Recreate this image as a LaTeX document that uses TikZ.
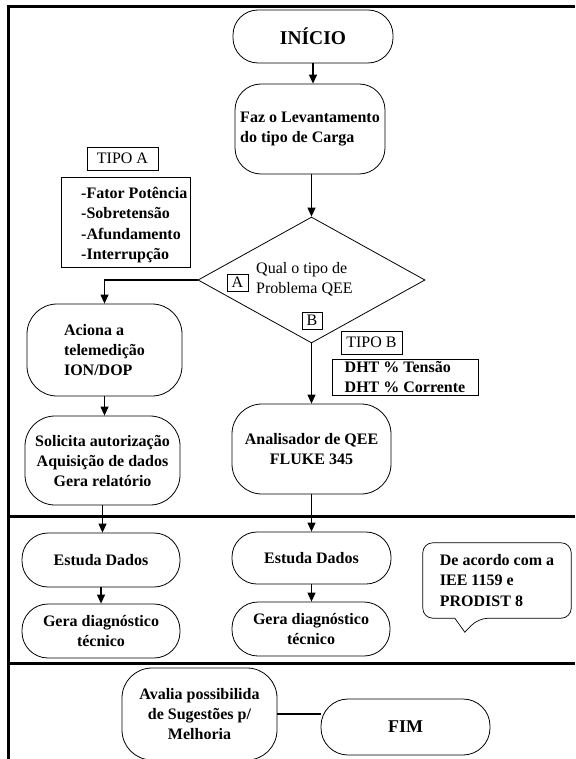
\documentclass[tikz,border=0pt]{standalone}
\usepackage{fontspec}
\setmainfont{Liberation Serif}
\usetikzlibrary{arrows.meta,shapes.geometric,calc}
\begin{document}
\begin{tikzpicture}[x=1pt,y=-1pt,
  term/.style={draw, line width=0.8pt, rounded corners=#1, align=center, inner sep=0pt,
    font=\fontsize{16}{20}\selectfont\bfseries},
  term/.default=24pt,
  tag/.style={draw, line width=0.7pt, inner sep=0pt, font=\fontsize{16}{20}\selectfont},
  plain/.style={inner sep=0pt, align=left, font=\fontsize{16}{20}\selectfont},
  boldtxt/.style={inner sep=0pt, align=left, font=\fontsize{16}{20.3}\selectfont\bfseries},
  arr/.style={line width=1.2pt, -{Triangle[length=9pt,width=8pt]}},
  ln/.style={line width=1.2pt},
  frame/.style={line width=3pt}]
\useasboundingbox (0,0) rectangle (575,759);
\fill[white] (0,0) rectangle (575,759);

% frame and dividers
\draw[frame] (575,7) -- (8,7) -- (8,760);
\draw[frame] (8,516) -- (575,516);
\draw[frame] (8,663.5) -- (575,663.5);

% top column
\node[term=25pt, minimum width=160pt, minimum height=53pt] (inicio) at (313,36.5)
  {\fontsize{19.5}{24}\selectfont INÍCIO};
\node[term=26pt, minimum width=150pt, minimum height=90pt, align=left] (faz) at (310,129)
  {Faz o Levantamento\\do tipo de Carga};
\node[draw, diamond, line width=0.8pt, minimum width=227pt, minimum height=126pt, inner sep=0pt]
  (dia) at (311.5,280) {};
\node[plain, anchor=west] (qual) at (256,279) {Qual o tipo de\\Problema QEE};
\node[tag, minimum width=21pt, minimum height=17pt] (ta) at (237.5,282.5) {A};
\node[tag, minimum width=20pt, minimum height=17pt] (tb) at (312,320.5) {B};

% tipo A
\node[tag, minimum width=71pt, minimum height=23pt] (tipoa) at (122.5,158.5) {TIPO A};
\node[draw, line width=0.7pt, minimum width=129pt, minimum height=90pt, inner sep=0pt]
  (lista) at (125.5,222) {};
\node[boldtxt, anchor=west] (listatxt) at (81,225)
  {-Fator Potência\\-Sobretensão\\-Afundamento\\-Interrupção};

% tipo B
\node[tag, minimum width=61pt, minimum height=23pt] (tipob) at (371.5,342.5) {TIPO B};
\node[draw, line width=0.7pt, minimum width=146pt, minimum height=36pt, inner sep=0pt,
  align=left, font=\fontsize{16}{20}\selectfont\bfseries] (dht) at (405,377)
  {DHT \% Tensão\\DHT \% Corrente};

% left branch
\node[term=30pt, minimum width=155pt, minimum height=92pt, align=left] (aciona) at (104.5,350)
  {Aciona a\\telemedição\\ION/DOP};
\node[term=30pt, minimum width=155pt, minimum height=89pt] (solicita) at (102.5,460.5)
  {Solicita autorização\\Aquisição de dados\\Gera relatório};

% right branch
\node[term=30pt, minimum width=159pt, minimum height=90pt] (anal) at (311.5,449)
  {Analisador de QEE\\FLUKE 345};

% middle band
\node[term=26pt, minimum width=158pt, minimum height=54pt] (estl) at (101,560) {Estuda Dados};
\node[term=26pt, minimum width=158pt, minimum height=54pt] (gerl) at (101,631)
  {Gera diagnóstico\\técnico};
\node[term=25pt, minimum width=159pt, minimum height=52pt] (estr) at (311.5,558) {Estuda Dados};
\node[term=26pt, minimum width=158pt, minimum height=54pt] (gerr) at (311,629)
  {Gera diagnóstico\\técnico};

% callout
\node[boldtxt, minimum width=148pt, minimum height=75pt] (co) at (497,580.5)
  {De acordo com a\\IEE 1159 e\\PRODIST 8};
\draw[line width=0.7pt] ($(co.south west)+(32,0)$) [rounded corners=10pt] -- (co.south west)
  -- (co.north west) -- (co.north east) -- (co.south east) -- ($(co.south east)+(-93,0)$)
  [sharp corners] -- ($(co.south west)+(42,14)$) -- cycle;

% bottom band
\node[term=30pt, minimum width=155pt, minimum height=92pt] (ava) at (199.5,714)
  {Avalia possibilida\\de Sugestões p/\\Melhoria};
\node[term=27pt, minimum width=169pt, minimum height=56pt] (fim) at (405.5,727)
  {\fontsize{18}{22}\selectfont FIM};

% connectors
\draw[arr] (inicio.south) -- (inicio.south |- faz.north);
\draw[arr] (dia.north |- faz.south) -- (dia.north);
\draw[arr] (dia.west) -| (aciona.north);
\draw[arr] (aciona.south) -- (aciona.south |- solicita.north);
\draw[arr] (dia.south) -- (dia.south |- anal.north);
\draw[arr] (solicita.south) -- (solicita.south |- estl.north);
\draw[arr] (estl.south) -- (estl.south |- gerl.north);
\draw[arr] (anal.south) -- (anal.south |- estr.north);
\draw[arr] (estr.south) -- (estr.south |- gerr.north);
\draw[ln] (ava.east) -- (ava.east -| fim.west);
\end{tikzpicture}
\end{document}
